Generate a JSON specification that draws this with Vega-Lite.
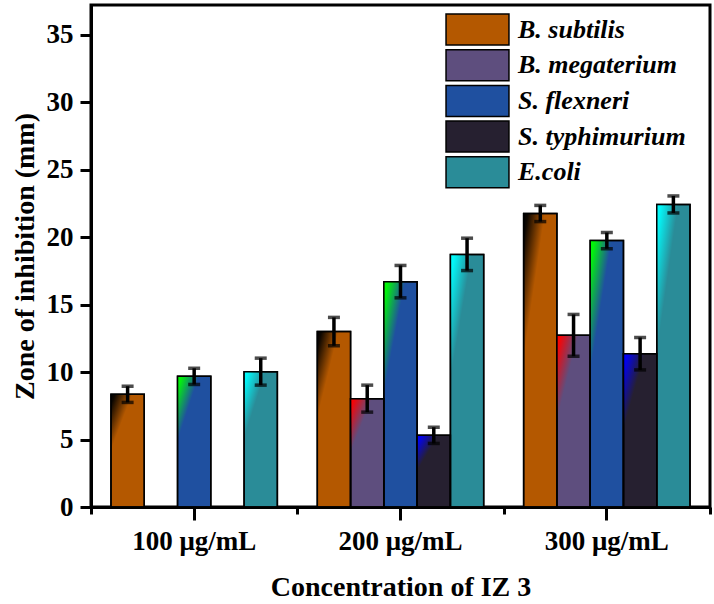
{
  "$schema": "https://vega.github.io/schema/vega-lite/v6.json",
  "width": 619,
  "height": 502,
  "autosize": "none",
  "padding": {"left": 91, "top": 5, "right": 4, "bottom": 97},
  "background": "white",
  "config": {
    "view": {"stroke": "black", "strokeWidth": 3},
    "font": "Liberation Serif"
  },
  "data": {
    "values": [
      {"conc": "100 μg/mL", "species": "B. subtilis", "mean": 8.35, "lo": 7.75, "hi": 8.95},
      {"conc": "100 μg/mL", "species": "S. flexneri", "mean": 9.68, "lo": 9.08, "hi": 10.28},
      {"conc": "100 μg/mL", "species": "E.coli", "mean": 10.03, "lo": 9.03, "hi": 11.03},
      {"conc": "200 μg/mL", "species": "B. subtilis", "mean": 13.0, "lo": 11.95, "hi": 14.05},
      {"conc": "200 μg/mL", "species": "B. megaterium", "mean": 8.03, "lo": 7.03, "hi": 9.03},
      {"conc": "200 μg/mL", "species": "S. flexneri", "mean": 16.7, "lo": 15.5, "hi": 17.9},
      {"conc": "200 μg/mL", "species": "S. typhimurium", "mean": 5.31, "lo": 4.71, "hi": 5.91},
      {"conc": "200 μg/mL", "species": "E.coli", "mean": 18.72, "lo": 17.52, "hi": 19.92},
      {"conc": "300 μg/mL", "species": "B. subtilis", "mean": 21.75, "lo": 21.15, "hi": 22.35},
      {"conc": "300 μg/mL", "species": "B. megaterium", "mean": 12.72, "lo": 11.17, "hi": 14.27},
      {"conc": "300 μg/mL", "species": "S. flexneri", "mean": 19.74, "lo": 19.14, "hi": 20.34},
      {"conc": "300 μg/mL", "species": "S. typhimurium", "mean": 11.36, "lo": 10.16, "hi": 12.56},
      {"conc": "300 μg/mL", "species": "E.coli", "mean": 22.42, "lo": 21.79, "hi": 23.05}
    ]
  },
  "encoding": {
    "xOffset": {
      "field": "species", "type": "nominal",
      "scale": {"domain": ["B. subtilis", "B. megaterium", "S. flexneri", "S. typhimurium", "E.coli"], "paddingInner": 0, "paddingOuter": 0.6}
    }
  },
  "layer": [
    {
      "mark": {"type": "bar", "stroke": "black", "strokeWidth": 1.5},
      "encoding": {
        "x": {
          "field": "conc", "type": "nominal",
          "scale": {"paddingInner": 0, "paddingOuter": 0},
          "axis": {
            "orient": "bottom",
            "title": "Concentration of IZ 3",
            "labelAngle": 0,
            "labelFont": "Liberation Serif", "labelFontSize": 27, "labelFontWeight": "bold", "labelColor": "black",
            "labelPadding": 8,
            "titleFont": "Liberation Serif", "titleFontSize": 28, "titleFontWeight": "bold", "titleColor": "black",
            "titlePadding": 19,
            "domainColor": "black", "domainWidth": 3,
            "tickColor": "black", "tickWidth": 3, "tickSize": 13
          }
        },
        "y": {
          "field": "mean", "type": "quantitative",
          "scale": {"domain": [0, 37.2], "nice": false, "zero": true},
          "axis": {
            "title": "Zone of inhibition (mm)",
            "values": [0, 2.5, 5, 7.5, 10, 12.5, 15, 17.5, 20, 22.5, 25, 27.5, 30, 32.5, 35],
            "labelExpr": "datum.value % 5 === 0 ? datum.label : ''",
            "grid": false,
            "labelFont": "Liberation Serif", "labelFontSize": 27, "labelFontWeight": "bold", "labelColor": "black",
            "labelPadding": 7,
            "titleFont": "Liberation Serif", "titleFontSize": 28, "titleFontWeight": "bold", "titleColor": "black",
            "titlePadding": 7,
            "domainColor": "black", "domainWidth": 3,
            "tickColor": "black", "tickWidth": 3,
            "tickSize": {"condition": {"test": "datum.value % 5 === 0", "value": 11}, "value": 6}
          }
        },
        "fill": {
          "field": "species", "type": "nominal",
          "scale": {
            "domain": ["B. subtilis", "B. megaterium", "S. flexneri", "S. typhimurium", "E.coli"],
            "range": ["#B45800", "#5E4E7E", "#1F50A0", "#262030", "#2A8C98"]
          },
          "legend": {
            "title": null,
            "orient": "none",
            "legendX": 370,
            "legendY": 8,
            "symbolType": "M-2.03,-1H2.03V1H-2.03Z",
            "symbolSize": 961,
            "symbolStrokeColor": "black",
            "symbolStrokeWidth": 1.5,
            "symbolOpacity": 1,
            "labelFont": "Liberation Serif", "labelFontSize": 26, "labelFontWeight": "bold", "labelFontStyle": "italic", "labelColor": "black",
            "labelOffset": 24,
            "rowPadding": -1.3,
            "padding": 0,
            "labelLimit": 300
          }
        }
      }
    },
    {
      "mark": {"type": "bar", "stroke": "black", "strokeWidth": 1.5},
      "encoding": {
        "x": {"field": "conc", "type": "nominal", "axis": null},
        "y": {"field": "mean", "type": "quantitative"},
        "fill": {
          "condition": [
            {"test": "datum.species === 'B. subtilis'", "value": {"gradient": "linear", "x1": 0, "y1": 0, "x2": 0.24, "y2": 0.31, "stops": [{"offset": 0, "color": "rgba(0,0,0,1)"}, {"offset": 0.2, "color": "rgba(0,0,0,0.92)"}, {"offset": 1, "color": "rgba(0,0,0,0)"}]}},
            {"test": "datum.species === 'B. megaterium'", "value": {"gradient": "linear", "x1": 0, "y1": 0, "x2": 0.24, "y2": 0.31, "stops": [{"offset": 0, "color": "rgba(255,0,0,1)"}, {"offset": 0.2, "color": "rgba(255,0,0,0.92)"}, {"offset": 1, "color": "rgba(255,0,0,0)"}]}},
            {"test": "datum.species === 'S. flexneri'", "value": {"gradient": "linear", "x1": 0, "y1": 0, "x2": 0.24, "y2": 0.31, "stops": [{"offset": 0, "color": "rgba(0,255,0,1)"}, {"offset": 0.2, "color": "rgba(0,255,0,0.92)"}, {"offset": 1, "color": "rgba(0,255,0,0)"}]}},
            {"test": "datum.species === 'S. typhimurium'", "value": {"gradient": "linear", "x1": 0, "y1": 0, "x2": 0.24, "y2": 0.31, "stops": [{"offset": 0, "color": "rgba(0,0,255,1)"}, {"offset": 0.2, "color": "rgba(0,0,255,0.92)"}, {"offset": 1, "color": "rgba(0,0,255,0)"}]}}
          ],
          "value": {"gradient": "linear", "x1": 0, "y1": 0, "x2": 0.24, "y2": 0.31, "stops": [{"offset": 0, "color": "rgba(0,255,255,1)"}, {"offset": 0.2, "color": "rgba(0,255,255,0.92)"}, {"offset": 1, "color": "rgba(0,255,255,0)"}]}
        }
      }
    },
    {
      "mark": {"type": "rule", "color": "black", "strokeWidth": 3.5},
      "encoding": {
        "x": {"field": "conc", "type": "nominal", "axis": null},
        "y": {"field": "lo", "type": "quantitative"},
        "y2": {"field": "hi"}
      }
    },
    {
      "mark": {"type": "tick", "color": "black", "thickness": 3.5, "size": 12},
      "encoding": {
        "x": {"field": "conc", "type": "nominal", "axis": null},
        "y": {"field": "lo", "type": "quantitative"}
      }
    },
    {
      "mark": {"type": "tick", "color": "black", "thickness": 3.5, "size": 12},
      "encoding": {
        "x": {"field": "conc", "type": "nominal", "axis": null},
        "y": {"field": "hi", "type": "quantitative"}
      }
    },
    {
      "mark": {"type": "tick", "opacity": 0},
      "encoding": {
        "y": {"field": "mean", "type": "quantitative"},
        "x": {
          "field": "conc", "type": "nominal",
          "axis": {
            "orient": "bottom", "title": null, "labels": false, "domain": false,
            "tickBand": "extent", "tickColor": "black", "tickWidth": 3, "tickSize": 7
          }
        }
      }
    }
  ],
  "resolve": {"axis": {"x": "independent"}}
}
